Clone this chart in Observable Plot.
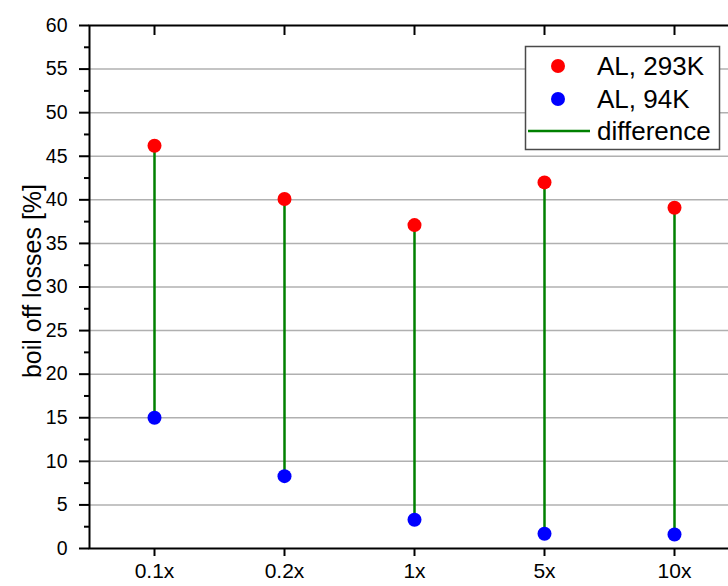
<!DOCTYPE html>
<html>
<head>
<meta charset="utf-8">
<script src="https://cdn.jsdelivr.net/npm/d3@7"></script>
<script src="https://cdn.jsdelivr.net/npm/@observablehq/plot@0.6"></script>
<style>
  html, body { margin: 0; padding: 0; background: #fff; overflow: hidden; }
  #chart { position: relative; width: 728px; height: 586px; }
</style>
</head>
<body>
<div id="chart"></div>
<script>
const categories = ["0.1x", "0.2x", "1x", "5x", "10x"];
const warm293K = [46.2, 40.1, 37.1, 42.0, 39.1];
const cold94K = [15.0, 8.3, 3.3, 1.7, 1.6];
const yTicks = [0, 5, 10, 15, 20, 25, 30, 35, 40, 45, 50, 55, 60];
const yMinorTicks = [2.5, 7.5, 12.5, 17.5, 22.5, 27.5, 32.5, 37.5, 42.5, 47.5, 52.5, 57.5];
const gridValues = [5, 10, 15, 20, 25, 30, 35, 40, 45, 50, 55];
const yTitle = "boil off losses [%]";
const legendLabels = ["AL, 293K", "AL, 94K", "difference"];
const legendColors = ["#ff0000", "#0000ff", "#008000"];

const data = categories.map((c, i) => ({cat: c, warm: warm293K[i], cold: cold94K[i]}));

const plot = Plot.plot({
  width: 728,
  height: 586,
  marginLeft: 89,
  marginRight: -11,
  marginTop: 25,
  marginBottom: 38,
  style: {fontFamily: "'Liberation Sans', Arial, sans-serif", color: "#000", background: "#fff", overflow: "hidden"},
  x: {type: "point", domain: categories, padding: 0.5},
  y: {domain: [0, 60]},
  marks: [
    Plot.gridY(gridValues, {stroke: "#b0b0b0", strokeOpacity: 1, strokeWidth: 1.5}),
    Plot.ruleX(data, {x: "cat", y1: "cold", y2: "warm", stroke: legendColors[2], strokeWidth: 2.5}),
    Plot.dot(data, {x: "cat", y: "warm", fill: legendColors[0], r: 7}),
    Plot.dot(data, {x: "cat", y: "cold", fill: legendColors[1], r: 7}),
    Plot.frame({stroke: "#000", strokeWidth: 2}),
    Plot.axisY(yTicks, {tickSize: 10, tickPadding: 12, fontSize: 20, label: null, strokeWidth: 2}),
    Plot.axisY(yMinorTicks, {tickSize: 5, tickFormat: () => "", label: null, strokeWidth: 2}),
    Plot.axisX({anchor: "bottom", tickSize: 8, tickPadding: 7, fontSize: 21, label: null, strokeWidth: 2}),
    Plot.axisX({anchor: "top", tickSize: -9, tickFormat: () => "", label: null, strokeWidth: 2})
  ]
});
document.getElementById("chart").appendChild(plot);

const svg = d3.select(plot);
// make sure tick label sizes are applied
const yLabelSet = new Set(yTicks.map(String));
const xLabelSet = new Set(categories);
svg.selectAll("text").each(function () {
  const t = this.textContent;
  if (xLabelSet.has(t)) d3.select(this).style("font-size", "21px");
  else if (yLabelSet.has(t)) d3.select(this).style("font-size", "19.5px");
});

// y-axis title
svg.append("text")
  .attr("transform", "translate(41,281) rotate(-90)")
  .attr("text-anchor", "middle")
  .attr("font-family", "'Liberation Sans', Arial, sans-serif")
  .style("font-size", "25px")
  .attr("fill", "#000")
  .text(yTitle);

// legend
const lg = svg.append("g")
  .attr("font-family", "'Liberation Sans', Arial, sans-serif")
  .attr("text-anchor", "start");
lg.append("rect").attr("x", 525.5).attr("y", 46.5).attr("width", 194).attr("height", 103)
  .attr("fill", "#fff").attr("stroke", "#4a4a4a").attr("stroke-width", 1.5);
const rowY = [66, 99, 131];
legendLabels.forEach((lab, i) => {
  if (i < 2) {
    lg.append("circle").attr("cx", 558).attr("cy", rowY[i]).attr("r", 7).attr("fill", legendColors[i]);
  } else {
    lg.append("line").attr("x1", 528).attr("x2", 590).attr("y1", rowY[i]).attr("y2", rowY[i])
      .attr("stroke", legendColors[i]).attr("stroke-width", 2.5);
  }
  lg.append("text").attr("x", 597).attr("y", rowY[i] + 9).style("font-size", "26px").attr("fill", "#000").text(lab);
});
</script>
</body>
</html>
